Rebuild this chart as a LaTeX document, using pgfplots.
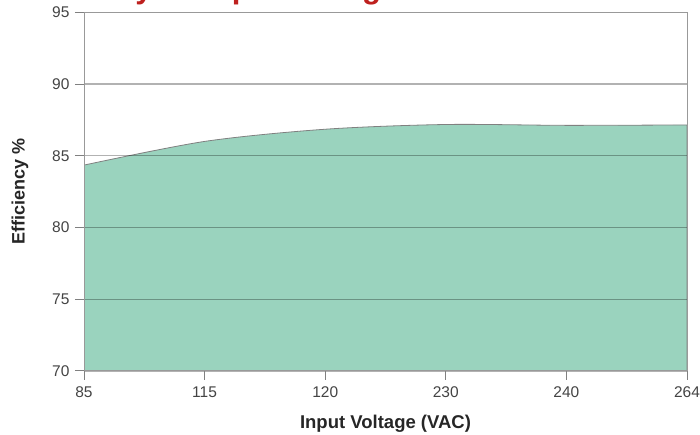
\documentclass[border=0pt]{standalone}
\usepackage{pgfplots}
\pgfplotsset{compat=1.18}
\usepackage{fontspec}
\setmainfont{Liberation Sans}
\definecolor{fillgreen}{RGB}{154,211,190}
\definecolor{titlered}{RGB}{190,32,30}
\definecolor{ticktext}{RGB}{68,68,68}
\begin{document}
\begin{tikzpicture}[x=1pt,y=1pt]
\useasboundingbox (0,0) rectangle (700,435);
\clip (0,0) rectangle (700,435);
\node[anchor=base west, font=\bfseries\fontsize{31}{31}\selectfont, text=titlered, inner sep=0] at (6,436) {Efficiency vs Input Voltage};
\begin{axis}[
  at={(84pt,64pt)}, anchor=south west,
  scale only axis, width=603pt, height=358.7pt,
  xmin=0, xmax=5, ymin=70, ymax=95,
  xtick={0,1,2,3,4,5}, xticklabels={85,115,120,230,240,264},
  ytick={70,75,80,85,90,95},
  xtick pos=lower, ytick pos=left,
  tick align=outside, major tick length=9pt,
  tick style={gray, line width=1pt},
  ymajorgrids,
  grid style={black, opacity=0.3, line width=1.2pt},
  axis line style={gray!80, line width=1pt},
  axis on top,
  /pgf/number format/assume math mode=true,
  ticklabel style={font=\fontsize{15.5}{15.5}\selectfont, text=ticktext},
  yticklabel style={xshift=-2pt},
  xticklabel style={yshift=-3pt},
  xlabel={Input Voltage (VAC)},
  ylabel={Efficiency \%},
  xlabel style={at={(axis description cs:0.5,-0.147)}, anchor=center, font=\bfseries\fontsize{18.5}{18.5}\selectfont, text=black!85},
  ylabel style={at={(axis description cs:-0.106,0.5)}, anchor=center, font=\bfseries\fontsize{18}{18}\selectfont, text=black!85},
]
\addplot[fill=fillgreen, draw=gray, line width=0.8pt, smooth] coordinates {
  (0,84.35) (1,86.0) (2,86.85) (3,87.18) (4,87.12) (5,87.15)
} \closedcycle;
\end{axis}
\end{tikzpicture}
\end{document}
